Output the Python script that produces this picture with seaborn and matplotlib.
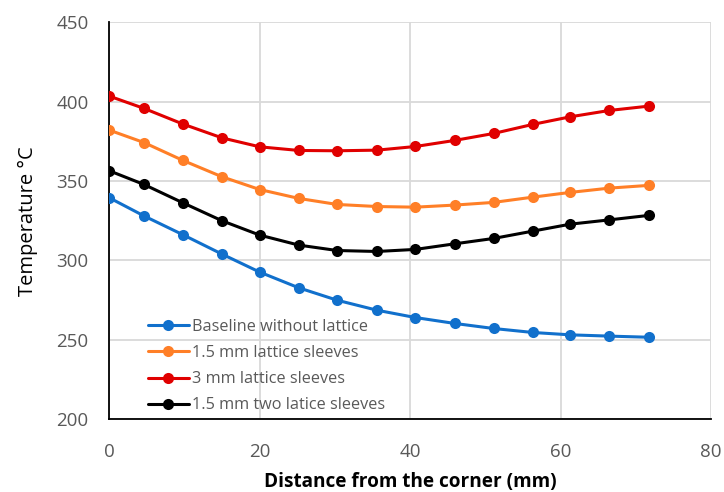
import pandas as pd
import matplotlib
matplotlib.use("Agg")
import matplotlib.pyplot as plt
import seaborn as sns

# data
distance = [0, 4.6, 9.8, 15.0, 20.0, 25.2, 30.3, 35.6, 40.7, 45.9, 51.1, 56.3, 61.3, 66.5, 71.7]
baseline = [339.4, 328.0, 316.1, 303.9, 292.6, 282.7, 274.9, 268.6, 264.0, 260.3, 257.1, 254.6, 253.1, 252.3, 251.6]
lattice_15 = [382.0, 374.2, 362.9, 352.6, 344.6, 339.0, 335.2, 333.9, 333.5, 334.8, 336.5, 339.8, 342.8, 345.5, 347.2]
lattice_3 = [403.4, 395.7, 385.8, 377.1, 371.5, 369.2, 369.0, 369.4, 371.7, 375.5, 379.9, 385.6, 390.4, 394.4, 397.1]
two_lattice = [356.4, 347.8, 336.2, 324.9, 315.9, 309.6, 306.2, 305.6, 306.9, 310.4, 313.8, 318.4, 322.8, 325.5, 328.3]

series_names = ["Baseline without lattice", "1.5 mm lattice sleeves",
                "3 mm lattice sleeves", "1.5 mm two latice sleeves"]
series_values = [baseline, lattice_15, lattice_3, two_lattice]
colors = ["#1170CC", "#FF7F27", "#E00000", "#000000"]

rows = []
for name, vals in zip(series_names, series_values):
    for d, v in zip(distance, vals):
        rows.append({"Distance": d, "Temperature": v, "Series": name})
df = pd.DataFrame(rows)

sns.set_theme(style="white")
plt.rcParams['font.family'] = ['Open Sans', 'DejaVu Sans']

fig = plt.figure(figsize=(7.24, 4.92), dpi=100)
ax = fig.add_axes([0.151, 0.148, 0.831, 0.807])

sns.lineplot(data=df, x="Distance", y="Temperature", hue="Series",
             hue_order=series_names, palette=colors, marker="o",
             markersize=8, markeredgewidth=0, linewidth=2.2, ax=ax, zorder=3)

ax.set_xlim(0, 80)
ax.set_ylim(200, 450)
ax.set_xticks([0, 20, 40, 60, 80])
ax.set_yticks([200, 250, 300, 350, 400, 450])
ax.grid(True, color="#D9D9D9", linewidth=1.3)
ax.set_axisbelow(True)
for s in ["top", "right"]:
    ax.spines[s].set_visible(False)
for s in ["left", "bottom"]:
    ax.spines[s].set_color("black")
    ax.spines[s].set_linewidth(1.3)
    ax.spines[s].set_zorder(2)

ax.tick_params(axis="both", labelsize=13.5, colors="#595959", length=0)
ax.tick_params(axis="x", pad=17)
ax.tick_params(axis="y", pad=15)
ax.set_xlabel("Distance from the corner (mm)", fontsize=13.7, fontweight="bold", color="black", labelpad=8)
ax.set_ylabel("Temperature \u00b0C", fontsize=14.5, color="black", labelpad=13)

leg = ax.legend(loc="lower left", bbox_to_anchor=(0.04, -0.022), frameon=False,
                fontsize=11.7, handlelength=2.5, handletextpad=0.2, labelspacing=0.62)
for t in leg.get_texts():
    t.set_color("#595959")

fig.savefig("out.png", dpi=100)
